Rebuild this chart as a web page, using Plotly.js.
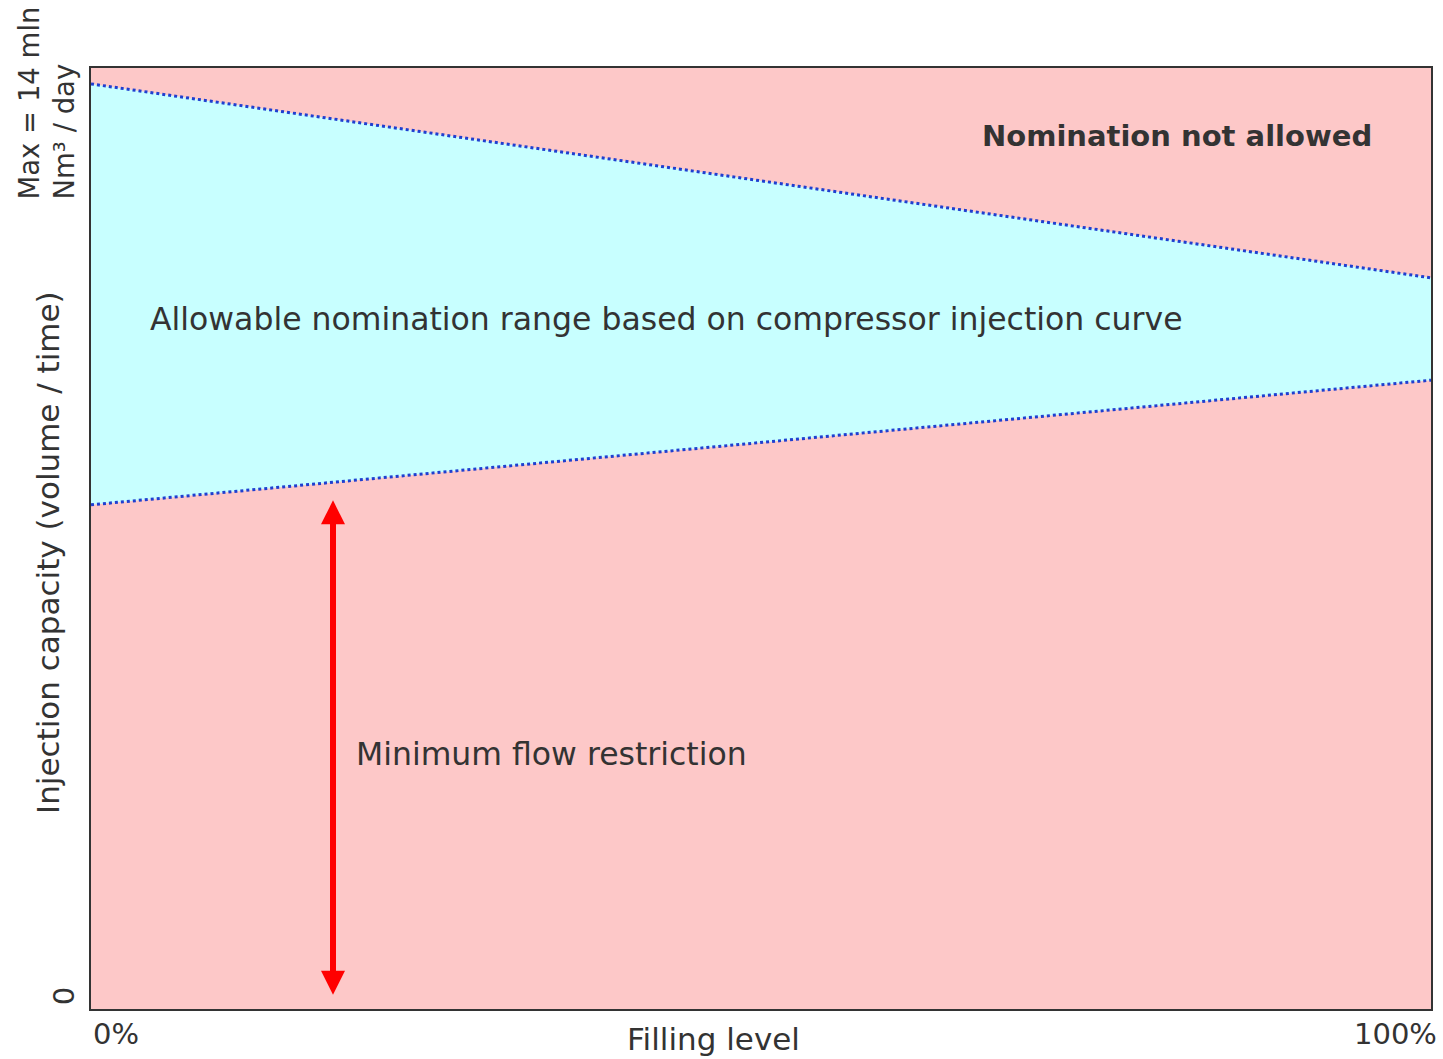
<!DOCTYPE html>
<html>
<head>
<meta charset="utf-8">
<script src="https://cdn.plot.ly/plotly-3.0.1.min.js"></script>
<style>html,body{margin:0;padding:0;background:#fff;}#chart{width:1443px;height:1059px;}</style>
</head>
<body>
<div id="chart"></div>
<script>
// Filling level (%) at the two ends of the curves
const fillingLevel = [0, 100];
// Compressor injection curve: upper (max) and lower (min) bounds
const upperCurve = [14.35, 11.30];
const lowerCurve = [7.73, 9.69];
// Minimum flow restriction arrow
const arrowX = [18.06, 18.06];
const arrowY = [0, 7.8];
// Tick labels
const xTickLabels = ["0%", "100%"];
const yTickLabels = ["0", "Max = 14 mln<br>Nm³ / day"];
const yTickValues = [0, 14];

const font = "DejaVu Sans, sans-serif";
const textColor = "#333333";

const traces = [
  {x: fillingLevel, y: lowerCurve, mode: "lines", type: "scatter",
   line: {color: "#1f3fd0", width: 3, dash: "dot"}, hoverinfo: "skip", showlegend: false},
  {x: fillingLevel, y: upperCurve, mode: "lines", type: "scatter", fill: "tonexty",
   fillcolor: "#c8ffff",
   line: {color: "#1f3fd0", width: 3, dash: "dot"}, hoverinfo: "skip", showlegend: false}
];

const layout = {
  width: 1443, height: 1059,
  margin: {l: 91, r: 12, t: 68, b: 50},
  paper_bgcolor: "#ffffff",
  plot_bgcolor: "#fdc8c8",
  showlegend: false,
  xaxis: {range: [0, 100], showgrid: false, zeroline: false, showticklabels: false,
          showline: true, mirror: true, linecolor: "#333333", linewidth: 2, fixedrange: true},
  yaxis: {range: [-0.2, 14.6], showgrid: false, zeroline: false, showticklabels: false,
          showline: true, mirror: true, linecolor: "#333333", linewidth: 2, fixedrange: true},
  annotations: [
    {x: arrowX[0], y: arrowY[1], ax: arrowX[1], ay: arrowY[0], xref: "x", yref: "y", axref: "x", ayref: "y",
     showarrow: true, arrowhead: 2, startarrowhead: 2, arrowside: "end+start", arrowcolor: "#ff0000",
     arrowwidth: 6, arrowsize: 0.8, startarrowsize: 0.8, text: ""},
    {x: 148, y: 319, xref: "paper", yref: "paper", text: "Allowable nomination range based on compressor injection curve",
     showarrow: false, xanchor: "left", yanchor: "middle", font: {family: font, size: 31.5, color: textColor}},
    {x: 1374, y: 136, xref: "paper", yref: "paper", text: "<b>Nomination not allowed</b>",
     showarrow: false, xanchor: "right", yanchor: "middle", font: {family: font, size: 29, color: textColor}},
    {x: 354, y: 754, xref: "paper", yref: "paper", text: "Minimum flow restriction",
     showarrow: false, xanchor: "left", yanchor: "middle", font: {family: font, size: 31.5, color: textColor}},
    {x: 713, y: 1039, xref: "paper", yref: "paper", text: "Filling level",
     showarrow: false, xanchor: "center", yanchor: "middle", font: {family: font, size: 31, color: textColor}},
    {x: 91, y: 1034, xref: "paper", yref: "paper", text: xTickLabels[0],
     showarrow: false, xanchor: "left", yanchor: "middle", font: {family: font, size: 29, color: textColor}},
    {x: 1439, y: 1034, xref: "paper", yref: "paper", text: xTickLabels[1],
     showarrow: false, xanchor: "right", yanchor: "middle", font: {family: font, size: 29, color: textColor}},
    {x: 48, y: 553, xref: "paper", yref: "paper", text: "Injection capacity (volume / time)", textangle: -90,
     showarrow: false, xanchor: "center", yanchor: "middle", font: {family: font, size: 31, color: textColor}},
    {x: 64, y: yTickValues[0], xref: "paper", yref: "y", text: yTickLabels[0], textangle: -90,
     showarrow: false, xanchor: "center", yanchor: "middle", font: {family: font, size: 29, color: textColor}},
    {x: 46, y: 202, xref: "paper", yref: "paper", text: yTickLabels[1], textangle: -90, align: "left",
     showarrow: false, xanchor: "center", yanchor: "bottom", font: {family: font, size: 27.5, color: textColor}}
  ]
};

// convert pixel-positioned text annotations to paper coords
const pw = 1443 - 91 - 12, ph = 1059 - 68 - 50;
layout.annotations.forEach((a, i) => {
  if (i === 0) return;
  if (a.yref === "paper") a.y = (1009 - a.y) / ph;
  if (a.xref === "paper") a.x = (a.x - 91) / pw;
});

Plotly.newPlot("chart", traces, layout, {displayModeBar: false, staticPlot: true});
</script>
</body>
</html>
